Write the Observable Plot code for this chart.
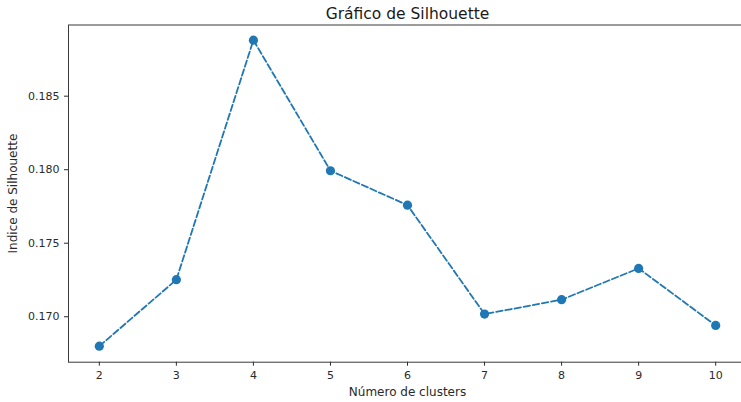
<!DOCTYPE html>
<html>
<head>
<meta charset="utf-8">
<script src="https://cdn.jsdelivr.net/npm/d3@7"></script>
<script src="https://cdn.jsdelivr.net/npm/@observablehq/plot@0.6"></script>
<style>
  html, body { margin: 0; padding: 0; background: white; overflow: hidden; }
  #chart svg { overflow: hidden; }
</style>
</head>
<body>
<div id="chart"></div>
<script>
const clusters = [2, 3, 4, 5, 6, 7, 8, 9, 10];
const silhouette = [0.1680, 0.17252, 0.18881, 0.17993, 0.17759, 0.17018, 0.17116, 0.17329, 0.16941];
const xTicks = [2, 3, 4, 5, 6, 7, 8, 9, 10];
const yTicks = [0.170, 0.175, 0.180, 0.185];
const titleText = "Gráfico de Silhouette";
const xLabel = "Número de clusters";
const yLabel = "Indice de Silhouette";

const data = clusters.map((k, i) => ({k, s: silhouette[i]}));
const blue = "#1f77b4";

const chart = Plot.plot({
  width: 741,
  height: 402,
  marginLeft: 68,
  marginRight: -5,
  marginTop: 24.5,
  marginBottom: 40.3,
  style: {fontFamily: "DejaVu Sans", fontSize: "11px", color: "#2a2a2a", background: "white"},
  x: {domain: [1.6, 10.4]},
  y: {domain: [0.16691, 0.18984]},
  marks: [
    Plot.axisX({ticks: xTicks, tickFormat: d => String(d), tickSize: 4, tickPadding: 5,
      label: null, fontSize: 11}),
    Plot.axisX({ticks: [], label: xLabel, labelAnchor: "center", labelArrow: "none",
      labelOffset: 34, fontSize: 12}),
    Plot.axisY({ticks: yTicks, tickFormat: d3.format(".3f"), tickSize: 4, tickPadding: 5,
      label: null, fontSize: 11}),
    Plot.axisY({ticks: [], label: yLabel, labelAnchor: "center", labelArrow: "none",
      labelOffset: 60, fontSize: 12}),
    Plot.frame({stroke: "#3a3a3a", strokeWidth: 1}),
    Plot.line(data, {x: "k", y: "s", stroke: blue, strokeWidth: 1.8, strokeDasharray: "6.5,2.8"}),
    Plot.dot(data, {x: "k", y: "s", r: 4.6, fill: blue, stroke: "none"}),
    Plot.text([titleText], {frameAnchor: "top", lineAnchor: "bottom", dy: -6, fontSize: 15.5, fill: "#1a1a1a"})
  ]
});
document.getElementById("chart").appendChild(chart);
</script>
</body>
</html>
